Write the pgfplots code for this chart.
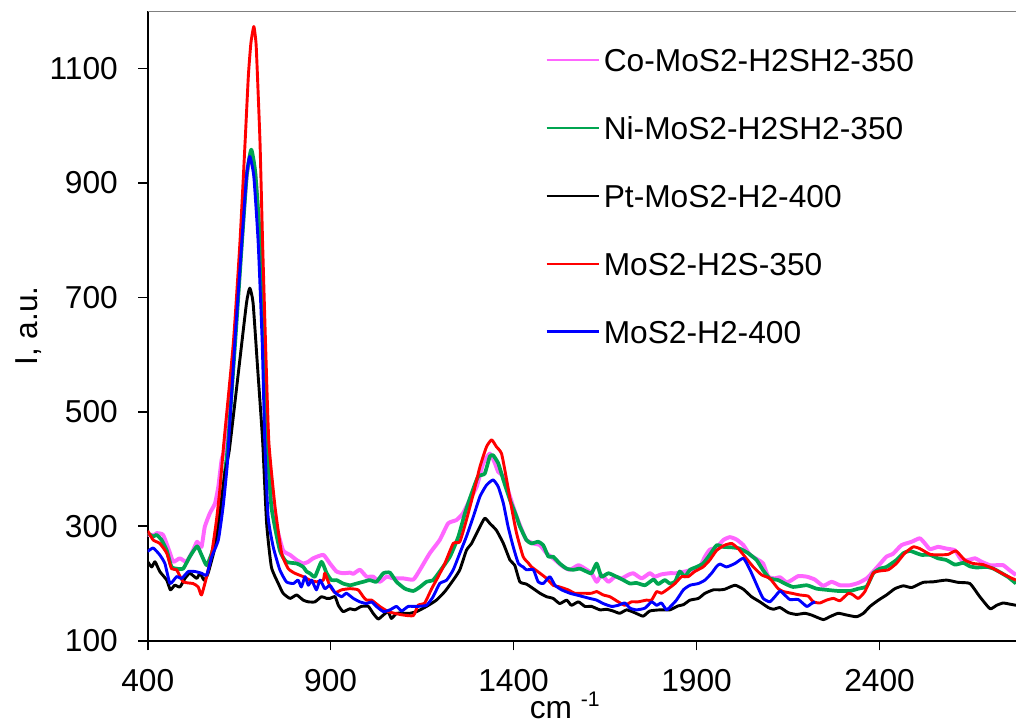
\documentclass[border=0pt]{standalone}
\usepackage{fontspec}
\setmainfont{Liberation Sans}
\usepackage{pgfplots}
\pgfplotsset{compat=1.18}
\definecolor{copink}{HTML}{FF66FF}
\definecolor{nigreen}{HTML}{00A550}
\newcommand{\fs}{\fontsize{12}{14.4}\selectfont}

\begin{document}
\begin{tikzpicture}
\begin{axis}[
scale only axis,width=328.6pt,height=238.3pt,
xmin=400,xmax=2773,ymin=100,ymax=1200,
xtick={400,900,...,2400},ytick={100,300,...,1100},
axis x line*=bottom,axis y line*=left,
axis line style={-,black,line width=0.6pt},
tick align=outside,major tick length=3.6pt,
tick style={black,line width=0.6pt},
/pgf/number format/assume math mode=true,
/pgf/number format/1000 sep={},
tick label style={font=\fs},
xticklabel style={anchor=north,inner sep=0pt,yshift=-7.1pt},
yticklabel style={anchor=east,inner sep=0pt,xshift=-7.5pt},
every axis y label/.style={at={(axis description cs:-0.127,0.5)},rotate=90,anchor=base,font=\fs},
every axis x label/.style={at={(axis description cs:0.481,-0.123)},anchor=base,font=\fs},
ylabel={I, a.u.},
xlabel={cm \textsuperscript{-1}},
legend style={draw=none,fill=none,font=\fs,inner sep=0pt,
  at={(rel axis cs:0.4574,0.942)},anchor=north west,row sep=16.7pt,
  nodes={inner xsep=1.5pt,inner ysep=0pt,text height=9pt,text depth=0pt}},
legend cell align=left,
legend image code/.code={\draw[#1,line width=0.9pt] (0pt,0pt) -- (19.7pt,0pt);},
every axis plot/.append style={line join=round,smooth,tension=0.3},
]
\draw[gray,line width=0.8pt] (rel axis cs:0,1) -- (rel axis cs:1,1);

% Co-MoS2-H2SH2-350
\addplot[copink,line width=1.5pt] coordinates {
(400,285) (420,285) (424,288) (442,285) (461,253) (470,238) (488,244) (506,238) (524,258) (535,273)
(547,264) (556,299) (570,323) (584,340) (593,369) (602,416) (612,445) (638,630) (657,800) (670,910)
(683,950) (694,915) (706,800) (718,620) (728,448) (740,335) (752,299) (770,258) (789,250) (807,241)
(825,235) (839,238) (852,244) (880,250) (898,235) (916,221) (934,218) (953,219) (962,217) (980,224)
(998,212) (1016,212) (1034,203) (1053,212) (1071,209) (1098,209) (1126,207) (1144,224) (1171,253) (1198,276)
(1221,305) (1244,311) (1262,323) (1280,346) (1299,369) (1317,410) (1335,427) (1349,410) (1358,395) (1372,387)
(1390,352) (1408,317) (1426,288) (1435,276) (1454,270) (1472,267) (1490,253) (1508,244) (1536,229) (1554,224)
(1577,232) (1595,226) (1613,218) (1627,203) (1640,215) (1659,203) (1677,212) (1695,209) (1713,215) (1727,218)
(1750,209) (1772,218) (1786,212) (1804,216) (1827,218) (1845,218) (1868,221) (1891,224) (1909,229) (1923,247)
(1936,259) (1955,263) (1973,276) (1991,281) (2009,277) (2028,267) (2046,250) (2069,241) (2082,235) (2096,212)
(2114,209) (2128,211) (2146,202) (2160,206) (2178,213) (2201,212) (2223,207) (2246,196) (2269,203) (2292,197)
(2319,197) (2342,201) (2365,209) (2383,221) (2401,234) (2419,247) (2437,252) (2460,267) (2488,273) (2510,279)
(2524,270) (2538,260) (2560,264) (2583,261) (2606,258) (2624,241) (2642,241) (2661,244) (2679,238) (2702,232)
(2720,232) (2738,232) (2756,223) (2773,215)
};
\addlegendentry{Co-MoS2-H2SH2-350}

% Ni-MoS2-H2SH2-350
\addplot[nigreen,line width=1.4pt] coordinates {
(400,288) (415,282) (424,285) (438,276) (452,258) (465,229) (479,226) (497,226) (515,247) (535,265)
(547,250) (561,232) (575,253) (588,282) (602,334) (611,393) (620,448) (640,630) (658,800) (671,915)
(683,958) (694,918) (707,800) (719,620) (727,448) (738,334) (761,258) (779,238) (807,235) (825,229)
(834,221) (843,218) (857,212) (875,238) (889,218) (902,206) (916,206) (934,200) (953,197) (971,200)
(989,203) (1007,206) (1025,203) (1044,218) (1062,219) (1080,203) (1103,191) (1126,187) (1144,194) (1162,203)
(1180,206) (1198,221) (1226,247) (1249,282) (1267,323) (1285,357) (1303,387) (1321,392) (1335,422) (1344,424)
(1358,410) (1372,381) (1390,346) (1408,317) (1417,300) (1435,276) (1449,270) (1467,273) (1481,267) (1495,247)
(1508,247) (1526,235) (1545,226) (1563,224) (1581,226) (1599,221) (1613,218) (1627,235) (1640,212) (1659,218)
(1681,212) (1700,206) (1718,200) (1736,201) (1759,197) (1782,207) (1795,199) (1813,206) (1827,200) (1841,203)
(1854,221) (1868,212) (1882,224) (1900,229) (1918,235) (1936,250) (1955,267) (1973,264) (2000,263) (2018,261)
(2041,253) (2064,241) (2082,223) (2100,209) (2123,206) (2141,200) (2164,194) (2201,197) (2228,191) (2255,189)
(2287,187) (2319,187) (2342,191) (2365,195) (2383,218) (2401,226) (2419,229) (2446,241) (2465,253) (2483,257)
(2501,253) (2515,250) (2538,250) (2560,244) (2583,241) (2606,233) (2629,236) (2647,230) (2665,228) (2693,229)
(2711,226) (2734,218) (2752,211) (2773,200)
};
\addlegendentry{Ni-MoS2-H2SH2-350}

% Pt-MoS2-H2-400
\addplot[black,line width=1.1pt] coordinates {
(400,238) (411,229) (420,238) (433,221) (452,206) (462,189) (474,197) (488,194) (502,209) (515,218)
(534,209) (543,218) (554,206) (565,218) (584,264) (597,323) (611,393) (623,433) (647,564) (670,690)
(679,716) (688,690) (700,580) (714,450) (725,305) (738,229) (757,200) (770,183) (789,174) (807,180)
(825,171) (839,168) (857,168) (875,177) (889,174) (898,174) (912,177) (921,162) (934,151) (953,156)
(966,154) (984,160) (1003,160) (1016,148) (1030,138) (1044,145) (1057,151) (1066,139) (1080,148) (1094,148)
(1116,148) (1135,151) (1162,160) (1189,171) (1212,186) (1235,206) (1253,224) (1271,258) (1285,270) (1303,293)
(1321,314) (1335,305) (1353,293) (1372,270) (1390,241) (1403,232) (1417,203) (1435,199) (1454,191) (1472,183)
(1490,177) (1508,174) (1526,165) (1545,171) (1558,162) (1577,168) (1595,160) (1613,160) (1636,154) (1654,155)
(1672,152) (1690,148) (1709,154) (1731,149) (1754,143) (1772,152) (1800,154) (1827,154) (1850,161) (1864,163)
(1882,171) (1905,174) (1923,183) (1946,189) (1964,189) (1977,190) (2005,197) (2028,190) (2050,177) (2073,168)
(2096,158) (2110,155) (2128,158) (2151,149) (2173,146) (2196,148) (2214,145) (2246,137) (2264,142) (2287,148)
(2310,145) (2337,142) (2356,148) (2374,160) (2397,171) (2419,180) (2442,191) (2465,196) (2488,193) (2519,202)
(2547,203) (2583,206) (2615,202) (2647,200) (2674,177) (2702,156) (2720,162) (2738,166) (2756,164) (2773,162)
};
\addlegendentry{Pt-MoS2-H2-400}

% MoS2-H2S-350
\addplot[red,line width=1.1pt] coordinates {
(400,292) (415,276) (433,270) (452,253) (465,226) (479,224) (497,203) (524,200) (538,194) (547,180)
(561,212) (575,253) (588,311) (597,363) (608,445) (634,620) (652,795) (666,969) (675,1086) (682,1144)
(690,1173) (696,1144) (700,1086) (707,969) (714,795) (722,620) (731,448) (748,334) (766,253) (784,226)
(802,218) (825,212) (843,206) (861,203) (880,206) (884,218) (898,196) (912,184) (930,189) (953,191)
(975,189) (989,177) (998,171) (1012,171) (1034,160) (1057,151) (1075,148) (1098,145) (1126,144) (1139,162)
(1157,166) (1176,191) (1194,212) (1212,235) (1235,270) (1253,273) (1271,311) (1290,357) (1308,404) (1326,439)
(1340,451) (1353,439) (1367,427) (1381,381) (1394,334) (1408,288) (1426,247) (1440,236) (1449,229) (1472,218)
(1490,209) (1508,197) (1526,194) (1549,189) (1567,183) (1590,183) (1613,183) (1627,186) (1645,180) (1663,177)
(1686,168) (1704,162) (1722,168) (1740,168) (1763,171) (1777,171) (1791,186) (1804,183) (1823,191) (1841,200)
(1859,212) (1877,212) (1895,221) (1918,229) (1936,241) (1955,258) (1977,267) (1996,270) (2014,261) (2032,247)
(2055,229) (2078,215) (2100,209) (2123,191) (2137,186) (2160,183) (2182,180) (2205,178) (2219,168) (2237,166)
(2255,171) (2274,174) (2292,170) (2315,183) (2328,180) (2342,174) (2360,186) (2383,218) (2401,222) (2424,224)
(2446,235) (2469,253) (2492,264) (2510,261) (2538,251) (2565,250) (2588,251) (2609,257) (2633,241) (2656,235)
(2683,233) (2711,226) (2734,218) (2752,212) (2773,206)
};
\addlegendentry{MoS2-H2S-350}

% MoS2-H2-400
\addplot[blue,line width=1.1pt] coordinates {
(400,256) (415,262) (433,250) (447,235) (461,200) (479,212) (493,209) (511,221) (529,221) (547,218)
(561,215) (575,247) (593,276) (606,334) (617,404) (621,445) (638,620) (657,795) (670,911) (679,946)
(690,911) (702,795) (713,620) (720,448) (729,317) (743,264) (761,224) (779,203) (798,200) (811,206)
(820,194) (830,212) (839,197) (848,206) (861,189) (871,206) (884,191) (898,197) (912,184) (930,177)
(943,183) (962,174) (980,168) (998,165) (1012,168) (1025,160) (1044,151) (1062,154) (1080,160) (1094,152)
(1112,160) (1135,160) (1162,162) (1180,177) (1198,200) (1217,206) (1235,224) (1253,253) (1271,282) (1290,317)
(1308,352) (1326,372) (1344,381) (1358,369) (1372,340) (1385,299) (1399,264) (1413,235) (1426,229) (1435,224)
(1454,224) (1467,203) (1481,200) (1499,212) (1513,197) (1531,189) (1554,183) (1572,180) (1590,177) (1608,174)
(1627,171) (1645,165) (1668,160) (1686,162) (1704,166) (1718,157) (1736,154) (1759,157) (1777,168) (1791,162)
(1804,166) (1818,154) (1832,162) (1845,171) (1864,189) (1882,197) (1905,200) (1923,206) (1941,218) (1955,230)
(1964,234) (1982,229) (2005,235) (2028,244) (2046,224) (2069,191) (2082,174) (2100,168) (2114,177) (2128,187)
(2141,180) (2155,172) (2178,172) (2201,160) (2214,165) (2224,168)
};
\addlegendentry{MoS2-H2-400}
\end{axis}
\pgfresetboundingbox
\path (-55.9pt,-31.9pt) rectangle (328.6pt,242.5pt);
\end{tikzpicture}
\end{document}
